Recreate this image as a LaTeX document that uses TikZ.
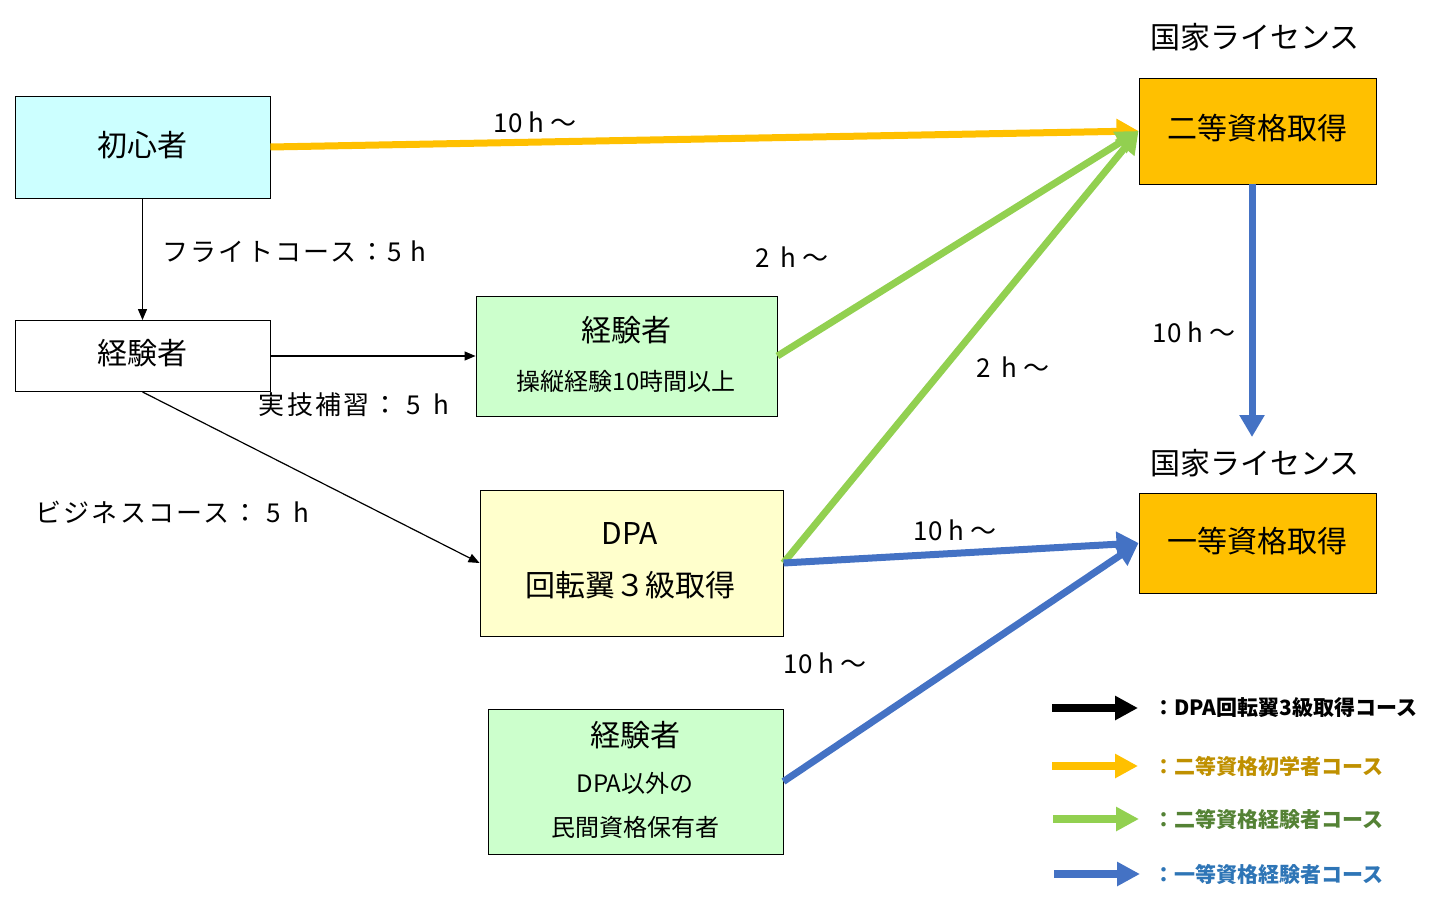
\documentclass[tikz,border=0pt]{standalone}
\usepackage{fontspec}
\setmainfont{Noto Sans CJK JP}
\usetikzlibrary{arrows.meta}
\definecolor{cyanfill}{HTML}{CCFFFF}
\definecolor{greenfill}{HTML}{CCFFCC}
\definecolor{yellowfill}{HTML}{FFFFCC}
\definecolor{orangefill}{HTML}{FFC000}
\definecolor{yarrow}{HTML}{FFC000}
\definecolor{garrow}{HTML}{92D050}
\definecolor{barrow}{HTML}{4472C4}
\definecolor{ytext}{HTML}{BF9000}
\definecolor{gtext}{HTML}{548235}
\definecolor{btext}{HTML}{2E75B6}
\tikzset{
  box/.style={draw=black, line width=0.9pt, inner sep=0pt},
  big/.style={font=\fontsize{30}{36}\selectfont, inner sep=0pt},
  mid/.style={font=\fontsize{24}{29}\selectfont, inner sep=0pt},
  lbl/.style={font=\fontsize{26}{31}\selectfont, inner sep=0pt},
  widelbl/.style={font=\fontsize{26}{31}\selectfont\addfontfeature{LetterSpace=9}, inner sep=0pt},
  leg/.style={font=\fontsize{21}{25}\selectfont\bfseries, inner sep=0pt, anchor=west},
  thin/.style={draw=black, line width=1.2pt, -{Triangle[length=11pt,width=9pt]}},
  thick/.style={line width=7pt, -{Triangle[length=22pt,width=24pt]}},
  legarrow/.style={line width=8pt, -{Triangle[length=23pt,width=23pt]}},
}
\begin{document}
\begin{tikzpicture}[x=1pt,y=-1pt]
\useasboundingbox (0,0) rectangle (1432,901);

% boxes
\node[box, fill=cyanfill, minimum width=255pt, minimum height=102pt] (sho) at (142.5,147) {};
\node[box, fill=white, minimum width=255pt, minimum height=71pt] (kei) at (142.5,356) {};
\node[box, fill=greenfill, minimum width=301pt, minimum height=120pt] (exp2) at (626.5,356) {};
\node[box, fill=yellowfill, minimum width=303pt, minimum height=146pt] (dpa) at (631.5,563) {};
\node[box, fill=greenfill, minimum width=295pt, minimum height=145pt] (exp3) at (635.5,781.5) {};
\node[box, fill=orangefill, minimum width=237pt, minimum height=106pt] (ni) at (1257.5,131) {};
\node[box, fill=orangefill, minimum width=237pt, minimum height=100pt] (ichi) at (1257.5,543) {};

% box texts
\node[big] (shoT) at (142.5,145) {初心者};
\node[big] (keiT) at (142.5,353) {経験者};
\node[big] (exp2a) at (626,330) {経験者};
\node[mid] (exp2b) at (626,381) {操縦経験10時間以上};
\node[big] (dpaa) at (630,534) {DPA};
\node[big] (dpab) at (630,585) {回転翼３級取得};
\node[big] (exp3a) at (635,735) {経験者};
\node[mid] (exp3b) at (635,783) {DPA以外の};
\node[mid] (exp3c) at (635,827) {民間資格保有者};
\node[big] (niT) at (1257.5,128) {二等資格取得};
\node[big] (ichiT) at (1257.5,541) {一等資格取得};
\node[big] (nat1) at (1255,37) {国家ライセンス};
\node[big] (nat2) at (1255,463) {国家ライセンス};

% thin black connectors
\draw[thin] (sho.south) -- (kei.north);
\draw[thin] (kei.east) -- (exp2.west);
\draw[thin] (kei.south) -- (dpa.west);

% thick connectors
\draw[thick, yarrow] (sho.east) -- (ni.west);
\draw[thick, garrow] (exp2.east) -- (ni.west);
\draw[thick, garrow] (dpa.east) -- (ni.west);
\draw[thick, barrow] (dpa.east) -- (ichi.west);
\draw[thick, barrow] (exp3.east) -- (ichi.west);
\coordinate (vStart) at (1252,184);
\coordinate (vEnd) at (1252,437);
\draw[thick, barrow] (vStart) -- (vEnd);

% labels
\node[widelbl] (l1) at (294,252) {フライトコース：5 h};
\node[widelbl] (l2) at (354,405) {実技補習： 5 \,h};
\node[widelbl] (l3) at (172,512) {ビジネスコース： 5 \,h};
\node[lbl] (l4) at (535,122) {10 h ～};
\node[lbl] (l5) at (792,257) {2 \,h ～};
\node[lbl] (l6) at (1013,367) {2 \,h ～};
\node[lbl] (l7) at (1194,332) {10 h ～};
\node[lbl] (l8) at (955,530) {10 h ～};
\node[lbl] (l9) at (825,663) {10 h ～};

% legend
\coordinate (a1s) at (1052,708); \coordinate (a1e) at (1138,708);
\coordinate (a2s) at (1052,766); \coordinate (a2e) at (1138,766);
\coordinate (a3s) at (1053,819); \coordinate (a3e) at (1139,819);
\coordinate (a4s) at (1054,874); \coordinate (a4e) at (1140,874);
\draw[legarrow, black] (a1s) -- (a1e);
\draw[legarrow, yarrow] (a2s) -- (a2e);
\draw[legarrow, garrow] (a3s) -- (a3e);
\draw[legarrow, barrow] (a4s) -- (a4e);
\node[leg, text=black] (t1) at (1153,708) {：DPA回転翼3級取得コース};
\node[leg, text=ytext] (t2) at (1153,766) {：二等資格初学者コース};
\node[leg, text=gtext] (t3) at (1153,819) {：二等資格経験者コース};
\node[leg, text=btext] (t4) at (1153,874) {：一等資格経験者コース};
\end{tikzpicture}
\end{document}
